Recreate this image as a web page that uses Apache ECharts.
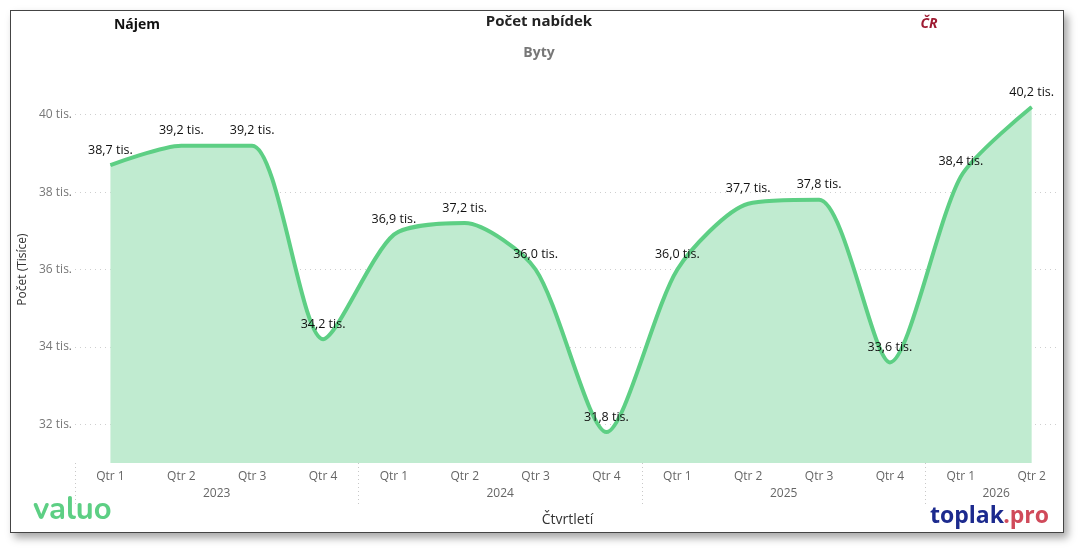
<!DOCTYPE html>
<html>
<head>
<meta charset="utf-8">
<script src="https://cdn.jsdelivr.net/npm/echarts@6/dist/echarts.min.js"></script>
<style>
  html, body { margin: 0; padding: 0; background: #fff; }
  #frame { position: absolute; left: 10px; top: 10px; width: 1052px; height: 521px;
           border: 1px solid #444; box-shadow: 4px 5px 8px rgba(0,0,0,0.35); background: #fff; }
  #chart { position: absolute; left: 0; top: 0; width: 1090px; height: 551px; }
</style>
</head>
<body>
<div id="frame"></div>
<div id="chart"></div>
<script>
// ---- data ----
const quarters = ['Qtr 1','Qtr 2','Qtr 3','Qtr 4','Qtr 1','Qtr 2','Qtr 3','Qtr 4','Qtr 1','Qtr 2','Qtr 3','Qtr 4','Qtr 1','Qtr 2'];
const years = ['2023','2024','2025','2026'];
const quartersPerYear = [4, 4, 4, 2];
const values = [38.7, 39.2, 39.2, 34.2, 36.9, 37.2, 36.0, 31.8, 36.0, 37.7, 37.8, 33.6, 38.4, 40.2];
const yTicks = [32, 34, 36, 38, 40];

// ---- derived helpers ----
const quarterIdx = quarters.map((q, i) => i);
const yearBounds = [];
const yearCenters = [];
let start = 0;
quartersPerYear.forEach(n => {
  yearBounds.push(start - 0.5);
  yearCenters.push(start + (n - 1) / 2);
  start += n;
});
const fmt = v => v.toFixed(1).replace('.', ',') + ' tis.';
const FONT = '"Segoe UI", "Open Sans", sans-serif';
const green = '#5dcf84';

const chart = echarts.init(document.getElementById('chart'));
chart.setOption({
  animation: false,
  textStyle: { fontFamily: FONT },
  grid: { left: 75, right: 30, top: 76, bottom: 88 },
  xAxis: [
    {
      type: 'value', min: -0.5, max: 13.4, position: 'bottom', offset: 0,
      axisLine: { show: false }, axisTick: { show: false }, splitLine: { show: false },
      axisLabel: {
        customValues: quarterIdx, margin: 8, color: '#666', fontSize: 12, fontFamily: FONT,
        formatter: v => quarters[Math.round(v)]
      }
    },
    {
      type: 'value', min: -0.5, max: 13.4, position: 'bottom', offset: 0,
      axisLine: { show: false }, splitLine: { show: false },
      axisTick: { show: true, customValues: yearBounds, length: 42,
                  lineStyle: { color: '#c8c8c8', type: [1, 3], width: 1 } },
      axisLabel: {
        customValues: yearCenters, margin: 25, color: '#666', fontSize: 12, fontFamily: FONT,
        formatter: v => years[yearCenters.indexOf(v)]
      },
      name: 'Čtvrtletí', nameLocation: 'middle', nameGap: 50,
      nameTextStyle: { color: '#333', fontSize: 14, fontFamily: FONT }
    }
  ],
  yAxis: {
    type: 'value', min: 31, max: 41,
    axisLine: { show: false },
    axisTick: { show: false, customValues: yTicks },
    axisLabel: { customValues: yTicks, margin: 3, color: '#777', fontSize: 12, fontFamily: FONT,
                 formatter: v => v + ' tis.' },
    splitLine: { show: true, lineStyle: { color: '#cfcfcf', type: [1, 4], width: 1 } },
    name: 'Počet (Tisíce)', nameLocation: 'middle', nameGap: 46,
    nameTextStyle: { color: '#333', fontSize: 12, fontFamily: FONT }
  },
  series: [{
    type: 'line', xAxisIndex: 0,
    data: values.map((v, i) => [i, v]),
    smooth: 0.25, symbol: 'circle', symbolSize: 1, showSymbol: true,
    itemStyle: { color: green },
    lineStyle: { color: green, width: 4 },
    areaStyle: { color: '#c0ebd0', opacity: 1, origin: 'start' },
    label: { show: true, position: 'top', distance: 8, color: '#111', fontSize: 12.5, fontFamily: FONT,
             formatter: p => fmt(p.value[1]) },
    labelLayout: { hideOverlap: false }
  }],
  graphic: [
    { type: 'text', x: 137, y: 25, style: { text: 'Nájem', font: 'bold 14px ' + FONT, fill: '#111', align: 'center', verticalAlign: 'middle' } },
    { type: 'text', x: 539, y: 22, style: { text: 'Počet nabídek', font: 'bold 15px ' + FONT, fill: '#222', align: 'center', verticalAlign: 'middle' } },
    { type: 'text', x: 539, y: 53, style: { text: 'Byty', font: 'bold 14px ' + FONT, fill: '#777', align: 'center', verticalAlign: 'middle' } },
    { type: 'text', x: 929, y: 24, style: { text: 'ČR', font: 'italic bold 14px ' + FONT, fill: '#9e1b32', align: 'center', verticalAlign: 'middle' } },
    { type: 'text', x: 33, y: 512, style: { text: 'valuo', font: 'bold 31px "Nunito", "Lato", sans-serif', fill: green, align: 'left', verticalAlign: 'middle' } },
    { type: 'text', x: 1049, y: 516, style: { text: '.pro', font: 'bold 23px ' + FONT, fill: '#d04a5a', align: 'right', verticalAlign: 'middle' } },
    { type: 'text', x: 1004, y: 516, style: { text: 'toplak', font: 'bold 23px ' + FONT, fill: '#1c2a8e', align: 'right', verticalAlign: 'middle' } }
  ]
});
</script>
</body>
</html>
